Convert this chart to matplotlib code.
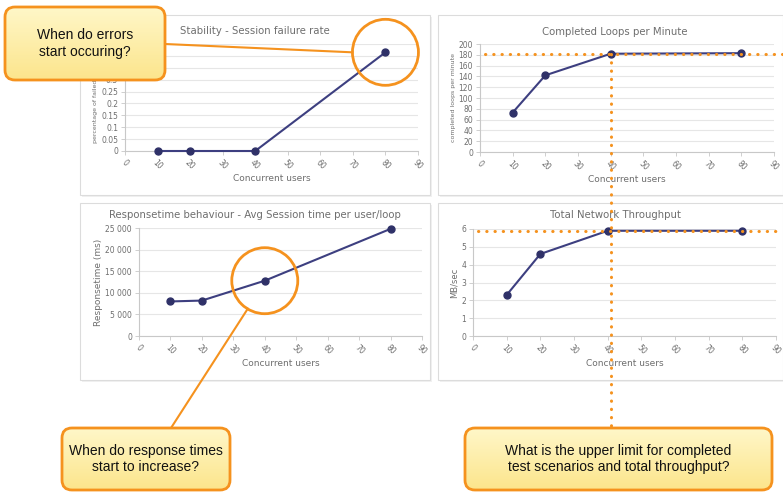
import matplotlib
matplotlib.use("Agg")
import matplotlib.pyplot as plt
import numpy as np
from matplotlib.patches import FancyBboxPatch, Circle, Rectangle
from matplotlib.ticker import FuncFormatter

# data
users = [10, 20, 40, 80]
failure_rate = [0.0, 0.0, 0.0, 0.415]
loops_per_min = [73, 142, 182, 183]
response_ms = [8000, 8200, 12800, 24800]
throughput_mb = [2.3, 4.6, 5.9, 5.9]
x_ticks = list(range(0, 100, 10))

W, H = 783, 493
ORANGE = "#F5921E"
NAVY = "#3D3F80"
GREY_TXT = "#6E6E6E"

fig = plt.figure(figsize=(W / 100, H / 100), dpi=100)


def rect(l, t, r, b):
    return [l / W, 1 - b / H, (r - l) / W, (b - t) / H]


# background layer with the panel frames
bg = fig.add_axes([0, 0, 1, 1], zorder=0)
bg.set_xlim(0, W)
bg.set_ylim(H, 0)
bg.axis("off")
for (l, t, r, b) in [(80, 15, 430, 195), (438, 15, 783, 195),
                     (80, 203, 430, 380), (438, 203, 783, 380)]:
    bg.add_patch(Rectangle((l + 2, t + 2), r - l, b - t, fc="#F1F1F1", ec="none"))
    bg.add_patch(Rectangle((l, t), r - l, b - t, fc="white", ec="#DCDCDC", lw=0.8))


def chart(box, title, title_xy, ylabel, ylab_size, yvals, ylim, ystep, yfmt=None):
    ax = fig.add_axes(rect(*box), zorder=2)
    ax.patch.set_alpha(0)
    ax.plot(users, yvals, color=NAVY, lw=1.5, marker="o", ms=5,
            mfc="#2F3168", mec="#2F3168", zorder=3, clip_on=False)
    ax.set_xlim(0, 90)
    ax.set_ylim(*ylim)
    ax.set_xticks(x_ticks)
    ax.set_yticks(np.arange(ylim[0], ylim[1] + ystep / 2, ystep))
    if yfmt:
        ax.yaxis.set_major_formatter(FuncFormatter(yfmt))
    ax.grid(axis="y", color="#E6E6E6", lw=0.8)
    ax.set_axisbelow(True)
    for s in ["top", "right"]:
        ax.spines[s].set_visible(False)
    for s in ["left", "bottom"]:
        ax.spines[s].set_color("#C8C8C8")
        ax.spines[s].set_linewidth(0.8)
    ax.tick_params(axis="both", labelsize=5.5, colors="#C8C8C8",
                   labelcolor=GREY_TXT, length=3, width=0.6, pad=2)
    for lab in ax.get_xticklabels():
        lab.set_rotation(-45)
        lab.set_ha("center")
        lab.set_va("top")
    ax.set_xlabel("Concurrent users", fontsize=6.5, color=GREY_TXT, labelpad=2)
    ax.set_ylabel(ylabel, fontsize=ylab_size, color=GREY_TXT, labelpad=2)
    bg.text(title_xy[0], title_xy[1], title, fontsize=7.3, color=GREY_TXT,
            ha="center", va="center")
    return ax


ax1 = chart((125, 44, 418, 151), "Stability - Session failure rate", (255, 31),
            "percentage of failed sessions", 4.5, failure_rate, (0, 0.45), 0.05,
            lambda v, p: f"{v:.2f}".rstrip("0").rstrip("."))
ax2 = chart((480, 44, 774, 152), "Completed Loops per Minute", (615, 32),
            "completed loops per minute", 4.5, loops_per_min, (0, 200), 20)
ax3 = chart((139, 228, 422, 336),
            "Responsetime behaviour - Avg Session time per user/loop", (255, 215),
            "Responsetime (ms)", 6.5, response_ms, (0, 25000), 5000,
            lambda v, p: f"{int(v):,}".replace(",", " "))
ax4 = chart((473, 229, 776, 336), "Total Network Throughput", (615, 215),
            "MB/sec", 6, throughput_mb, (0, 6), 1)

# overlay for the callouts
ov = fig.add_axes([0, 0, 1, 1], zorder=10)
ov.set_xlim(0, W)
ov.set_ylim(H, 0)
ov.axis("off")
ov.patch.set_alpha(0)


def to_ov(ax, x, y):
    return ov.transData.inverted().transform(ax.transData.transform((x, y)))


dot = dict(color=ORANGE, lw=2.2, ls=(0, (0.1, 2.6)), dash_capstyle="round",
           solid_capstyle="round")

# limits of completed loops and throughput
p2 = to_ov(ax2, users[2], loops_per_min[2])
p4 = to_ov(ax4, users[2], throughput_mb[2])
ov.plot([485, W], [p2[1], p2[1]], **dot)
ov.plot([478, W], [p4[1], p4[1]], **dot)
ov.plot([p2[0], p2[0]], [p2[1], 428], **dot)

# circles around the interesting points
c1 = to_ov(ax1, users[3], failure_rate[3])
c3 = to_ov(ax3, users[2], response_ms[2])
for c in (c1, c3):
    ov.add_patch(Circle(c, 33, fill=False, ec=ORANGE, lw=2))

ov.plot([165, c1[0] - 33], [44, c1[1]], color=ORANGE, lw=1.5)
ov.plot([c3[0] - 17, 171], [c3[1] + 28, 428], color=ORANGE, lw=1.5)


def callout(l, t, r, b, text):
    patch = FancyBboxPatch((l, t), r - l, b - t,
                           boxstyle="round,pad=0,rounding_size=10",
                           fc="none", ec=ORANGE, lw=2, zorder=3)
    ov.add_patch(patch)
    grad = np.linspace(0, 1, 64).reshape(-1, 1)
    top = np.array(matplotlib.colors.to_rgb("#FFF7C8"))
    bot = np.array(matplotlib.colors.to_rgb("#FCE58C"))
    img = top + (bot - top) * grad[..., None]
    im = ov.imshow(img, extent=(l, r, b, t), aspect="auto", zorder=2)
    im.set_clip_path(patch)
    ov.text((l + r) / 2, (t + b) / 2, text, ha="center", va="center",
            fontsize=10, family="Liberation Sans", color="#111111",
            linespacing=1.25, zorder=4)


callout(5, 7, 165, 80, "When do errors\nstart occuring?")
callout(62, 428, 230, 490, "When do response times\nstart to increase?")
callout(465, 428, 772, 490,
        "What is the upper limit for completed\ntest scenarios and total throughput?")

ov.set_xlim(0, W)
ov.set_ylim(H, 0)

fig.savefig("out.png", dpi=100)
